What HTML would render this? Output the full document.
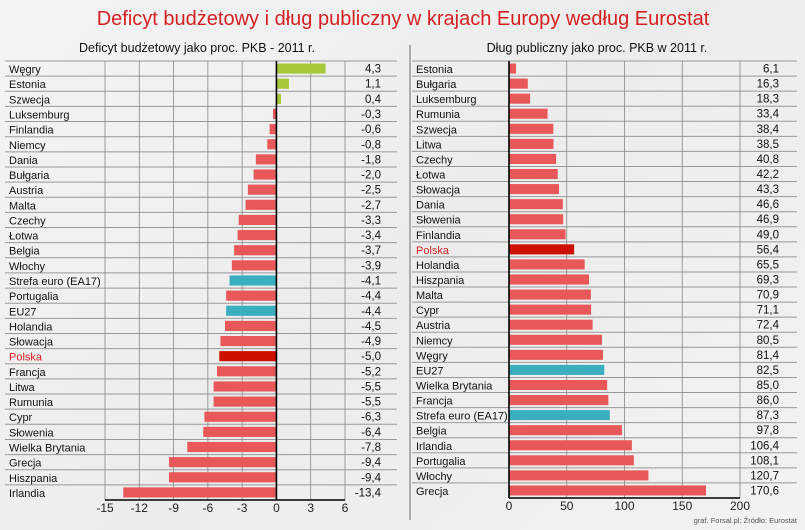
<!DOCTYPE html>
<html><head><meta charset="utf-8">
<style>
body{margin:0;width:805px;height:530px;overflow:hidden;background:linear-gradient(135deg,#f4f4f4,#ececec 50%,#f2f2f2);font-family:"Liberation Sans",sans-serif;}
svg{position:absolute;left:0;top:0}
</style></head><body>
<svg id="c" width="805" height="530">
<text x="403" y="25" text-anchor="middle" font-size="20" fill="#d42020">Deficyt budżetowy i dług publiczny w krajach Europy według Eurostat</text>
<text x="197" y="52" text-anchor="middle" font-size="12.5" fill="#111">Deficyt budżetowy jako proc. PKB - 2011 r.</text>
<text x="597" y="52" text-anchor="middle" font-size="12.5" fill="#111">Dług publiczny jako proc. PKB w 2011 r.</text>
<line x1="410" y1="45" x2="410" y2="520" stroke="#999" stroke-width="1.5"/>
<text x="797" y="523" text-anchor="end" font-size="7.5" fill="#555">graf. Forsal.pl; Źródło: Eurostat</text>
<g id="L"></g><g id="R"></g>
</svg>
<script>
const defCats=["Węgry","Estonia","Szwecja","Luksemburg","Finlandia","Niemcy","Dania","Bułgaria","Austria","Malta","Czechy","Łotwa","Belgia","Włochy","Strefa euro (EA17)","Portugalia","EU27","Holandia","Słowacja","Polska","Francja","Litwa","Rumunia","Cypr","Słowenia","Wielka Brytania","Grecja","Hiszpania","Irlandia"];
const defVals=[4.3,1.1,0.4,-0.3,-0.6,-0.8,-1.8,-2.0,-2.5,-2.7,-3.3,-3.4,-3.7,-3.9,-4.1,-4.4,-4.4,-4.5,-4.9,-5.0,-5.2,-5.5,-5.5,-6.3,-6.4,-7.8,-9.4,-9.4,-13.4];
const defTicks=[-15,-12,-9,-6,-3,0,3,6];
const debtCats=["Estonia","Bułgaria","Luksemburg","Rumunia","Szwecja","Litwa","Czechy","Łotwa","Słowacja","Dania","Słowenia","Finlandia","Polska","Holandia","Hiszpania","Malta","Cypr","Austria","Niemcy","Węgry","EU27","Wielka Brytania","Francja","Strefa euro (EA17)","Belgia","Irlandia","Portugalia","Włochy","Grecja"];
const debtVals=[6.1,16.3,18.3,33.4,38.4,38.5,40.8,42.2,43.3,46.6,46.9,49.0,56.4,65.5,69.3,70.9,71.1,72.4,80.5,81.4,82.5,85.0,86.0,87.3,97.8,106.4,108.1,120.7,170.6];
const debtTicks=[0,50,100,150,200];
const NS="http://www.w3.org/2000/svg";
function mk(p,t,a,txt){const e=document.createElementNS(NS,t);for(const k in a)e.setAttribute(k,a[k]);if(txt!=null)e.textContent=txt;p.appendChild(e);return e;}
function fmt(v){return v.toFixed(1).replace('.',',');}
function color(c,v,neg){if(c==="Polska")return"#cc1100";if(c==="EU27"||c.indexOf("Strefa")===0)return"#3aaebf";if(v>0&&neg)return"#a8c83c";return"#e85858";}
function draw(g,cats,vals,ticks,o){
 const n=cats.length,rh=(o.bot-o.top)/n;
 const x=v=>o.x0+(v-ticks[0])/(ticks[ticks.length-1]-ticks[0])*(o.x1-o.x0);
 for(let i=0;i<n;i++){const y=o.top+i*rh;
  if(i>0){const l=mk(g,'line',{x1:o.lx,x2:o.rx,y1:y,y2:y,stroke:'#999','stroke-width':1});}
 }
 mk(g,'line',{x1:o.lx,x2:o.rx,y1:o.top,y2:o.top,stroke:'#999'});
 ticks.forEach(t=>{const l=mk(g,'line',{x1:x(t),x2:x(t),y1:o.top,y2:o.bot,stroke:'#888','stroke-width':0.8});
  const tx=mk(g,'text',{x:x(t),y:o.bot+12,'text-anchor':'middle','font-size':12,fill:'#222'},t);});
 for(let i=0;i<n;i++){const y=o.top+i*rh,v=vals[i],c=cats[i];
  const b=mk(g,'rect',{x:Math.min(x(0),x(v)),y:y+2.5,width:Math.abs(x(v)-x(0)),height:rh-5,fill:color(c,v,o.neg)});
  
  const lt=mk(g,'text',{x:o.lx+4,y:y+rh/2+4.5,'font-size':11,fill:c==="Polska"?'#d42020':'#111'},c);
  const vt=mk(g,'text',{x:o.vx,y:y+rh/2+4,'text-anchor':'end','font-size':11.5,fill:'#111'},fmt(v));
 }
 mk(g,'line',{x1:x(0),x2:x(0),y1:o.top,y2:o.bot,stroke:'#000','stroke-width':1.6});
 mk(g,'line',{x1:o.x0,x2:o.x1,y1:o.bot,y2:o.bot,stroke:'#000','stroke-width':1.6});
}
draw(document.getElementById('L'),defCats,defVals,defTicks,{top:61,bot:500,x0:105,x1:345,lx:5,rx:397,vx:381,neg:true});
draw(document.getElementById('R'),debtCats,debtVals,debtTicks,{top:61,bot:498,x0:509,x1:740,lx:412,rx:797,vx:779,neg:false});
</script>
</body></html>
